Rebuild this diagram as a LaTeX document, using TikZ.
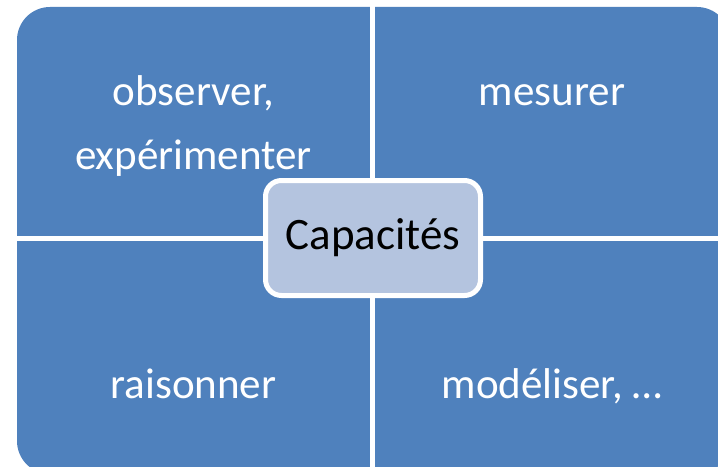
\documentclass[tikz,border=0pt]{standalone}
\usepackage{fontspec}
\setmainfont{Carlito}
\usetikzlibrary{positioning}
\definecolor{quadblue}{RGB}{79,129,189}
\definecolor{hubblue}{RGB}{180,196,223}

\begin{document}
\begin{tikzpicture}[
    x=0.75pt, y=-0.75pt,
    quadtext/.style={text=white, font=\fontsize{32.3}{48}\selectfont, align=center, anchor=base},
    hub/.style={rectangle, rounded corners=12pt, draw=white, line width=3.75pt, fill=hubblue,
                minimum width=161.25pt, minimum height=86.25pt,
                font=\fontsize{33.75}{40}\selectfont, text=black},
    gap/.style={draw=white, line width=3.75pt}
]
\useasboundingbox (0,0) rectangle (718,467);
\clip (0,0) rectangle (718,467);

% Quadrants
\fill[quadblue, rounded corners=24.75pt] (17,7) rectangle (730,474);
\coordinate (gtop) at (372.5,0);
\coordinate (gbot) at (372.5,480);
\coordinate (gleft) at (0,238.5);
\coordinate (gright) at (740,238.5);
\draw[gap] (gtop) -- (gbot);
\draw[gap] (gleft) -- (gright);

% Labels
\node[quadtext] (observe) at (193.5,170) {observer,\\expérimenter};
\node[quadtext] (measure) at (552,106)   {mesurer};
\node[quadtext] (reason)  at (193.5,398) {raisonner};
\node[quadtext] (model)   at (552,398)   {modéliser, …};

% Centre
\node[hub] (skills) at (373,238) {Capacités};

\end{tikzpicture}
\end{document}
